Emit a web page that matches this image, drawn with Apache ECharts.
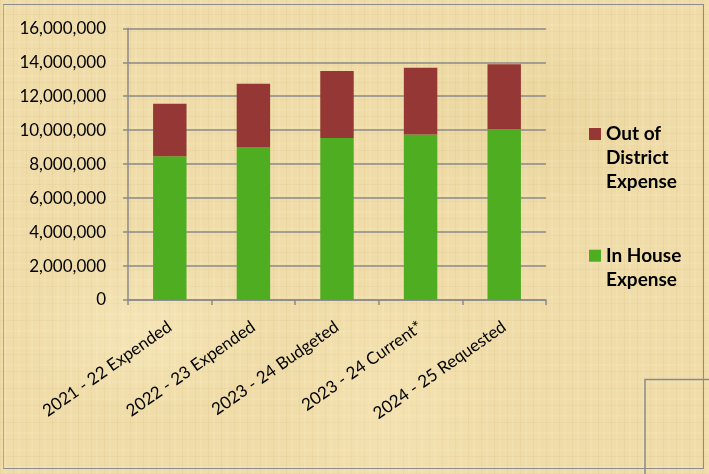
<!DOCTYPE html>
<html>
<head>
<meta charset="utf-8">
<title>Expense by Year</title>
<script src="https://cdn.jsdelivr.net/npm/echarts@6/dist/echarts.min.js"></script>
<style>
  html, body { margin: 0; padding: 0; }
  body {
    width: 709px; height: 474px; overflow: hidden;
    background-color: #efdca8;
    background-image:
      radial-gradient(ellipse 180px 120px at 20% 70%, rgba(255,245,210,0.35), transparent 70%),
      radial-gradient(ellipse 220px 140px at 75% 25%, rgba(200,160,80,0.12), transparent 70%),
      radial-gradient(ellipse 160px 200px at 55% 85%, rgba(255,240,200,0.3), transparent 70%),
      repeating-linear-gradient(90deg, rgba(170,130,60,0.07) 0 1px, transparent 1px 5px, rgba(255,250,225,0.12) 5px 7px, transparent 7px 13px),
      repeating-linear-gradient(0deg, rgba(170,130,60,0.06) 0 1px, transparent 1px 6px, rgba(255,250,225,0.1) 6px 8px, transparent 8px 17px);
  }
  #frame {
    position: absolute; left: 3px; top: 4px; width: 701px; height: 465px;
    border: 1.5px solid #8d8d8d; border-left-color: #c9a464; box-sizing: border-box;
  }
  #chart { position: absolute; left: 0; top: 0; width: 709px; height: 474px; }
</style>
</head>
<body>
<div id="frame"></div>
<div id="chart"></div>
<script>
// Fiscal-year categories
const categories = [
  '2021 - 22 Expended',
  '2022 - 23 Expended',
  '2023 - 24 Budgeted',
  '2023 - 24 Current*',
  '2024 - 25 Requested'
];

// Expense components (dollars)
const inHouseExpense = [8470000, 9010000, 9540000, 9740000, 10070000];
const outOfDistrictExpense = [3080000, 3730000, 3950000, 3940000, 3810000];

// Value axis ticks
const yMin = 0;
const yMax = 16000000;
const yStep = 2000000;

const FONT = 'Lato, "Open Sans", sans-serif';
const RED = '#953735';
const GREEN = '#4ead21';
const AXIS_GRAY = '#8a8a8a';

const legendText = {
  fontFamily: FONT, fontSize: 19, fontWeight: 'bold', color: '#000', lineHeight: 24
};

const chart = echarts.init(document.getElementById('chart'), null, { renderer: 'canvas' });

chart.setOption({
  backgroundColor: 'transparent',
  animation: false,
  grid: { left: 128, right: 163, top: 28.3, bottom: 174, containLabel: false },
  legend: [
    {
      // leading blank lines keep the marker level with the first text line
      left: 589, top: 74, padding: 0, orient: 'vertical',
      itemWidth: 12, itemHeight: 12, itemGap: 6, icon: 'rect',
      data: ['Out of District Expense'],
      formatter: () => '\n\nOut of\nDistrict\nExpense',
      textStyle: legendText
    },
    {
      left: 589, top: 219.7, padding: 0, orient: 'vertical',
      itemWidth: 12, itemHeight: 12, itemGap: 6, icon: 'rect',
      data: ['In House Expense'],
      formatter: () => '\nIn House\nExpense',
      textStyle: legendText
    }
  ],
  xAxis: {
    type: 'category',
    data: categories,
    axisLine: { show: true, lineStyle: { color: AXIS_GRAY, width: 1.5 } },
    axisTick: { show: true, length: 5, lineStyle: { color: AXIS_GRAY, width: 1.5 } },
    axisLabel: {
      rotate: 35, margin: 25, interval: 0,
      fontFamily: FONT, fontSize: 17, color: '#000'
    }
  },
  yAxis: {
    type: 'value',
    min: yMin, max: yMax, interval: yStep,
    axisLine: { show: true, lineStyle: { color: AXIS_GRAY, width: 1.5 } },
    axisTick: { show: true, length: 5, lineStyle: { color: AXIS_GRAY, width: 1.5 } },
    splitLine: { show: true, lineStyle: { color: AXIS_GRAY, width: 1.5 } },
    axisLabel: {
      margin: 22, fontFamily: FONT, fontSize: 17, color: '#000',
      formatter: v => v.toLocaleString('en-US')
    }
  },
  series: [
    {
      name: 'In House Expense', type: 'bar', stack: 'total',
      barWidth: '40%',
      itemStyle: { color: GREEN },
      data: inHouseExpense
    },
    {
      name: 'Out of District Expense', type: 'bar', stack: 'total',
      barWidth: '40%',
      itemStyle: { color: RED },
      data: outOfDistrictExpense
    }
  ],
  graphic: [
    {
      type: 'polyline',
      shape: { points: [[645, 474], [645, 379.5], [709, 379.5]] },
      style: { stroke: AXIS_GRAY, lineWidth: 1.5, fill: null }
    }
  ]
});
</script>
</body>
</html>
